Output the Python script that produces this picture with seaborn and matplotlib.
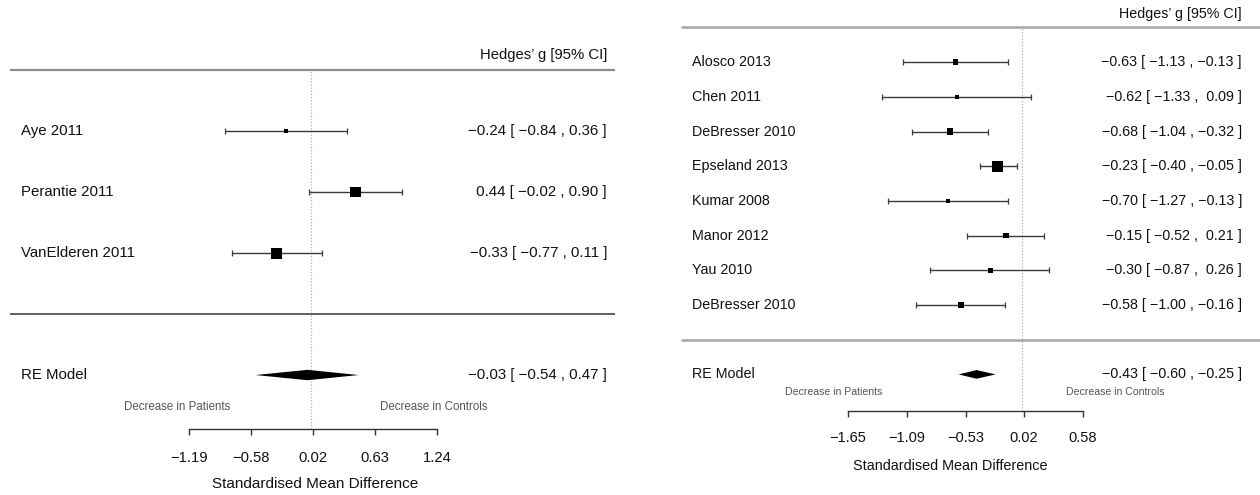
import matplotlib
matplotlib.use("Agg")

import matplotlib.pyplot as plt
import numpy as np
import seaborn as sns

# ── data ────────────────────────────────────────────────────────────────────
left_studies = ["Aye 2011", "Perantie 2011", "VanElderen 2011"]
left_est = [-0.24, 0.44, -0.33]
left_lo = [-0.84, -0.02, -0.77]
left_hi = [0.36, 0.90, 0.11]
left_weight = [25.7, 36.5, 37.8]
left_re = [-0.03, -0.54, 0.47]          # estimate, lower, upper
left_ticks = [-1.19, -0.58, 0.02, 0.63, 1.24]

right_studies = ["Alosco 2013", "Chen 2011", "DeBresser 2010", "Epseland 2013",
                 "Kumar 2008", "Manor 2012", "Yau 2010", "DeBresser 2010"]
right_est = [-0.63, -0.62, -0.68, -0.23, -0.70, -0.15, -0.30, -0.58]
right_lo = [-1.13, -1.33, -1.04, -0.40, -1.27, -0.52, -0.87, -1.00]
right_hi = [-0.13, 0.09, -0.32, -0.05, -0.13, 0.21, 0.26, -0.16]
right_weight = [11.0, 7.5, 14.0, 25.0, 9.0, 12.0, 9.0, 12.5]
right_re = [-0.43, -0.60, -0.25]
right_ticks = [-1.65, -1.09, -0.53, 0.02, 0.58]

HEADER = "Hedges\u2019 g [95% CI]"
XLABEL = "Standardised Mean Difference"
MINUS = "\u2212"


def _num(v):
    return f"{v:.2f}".replace("-", MINUS)


def _ci_strings(est, lo, hi):
    e = [_num(v) for v in est]
    l = [_num(v) for v in lo]
    h = [_num(v) for v in hi]
    we, wl, wh = (max(len(s) for s in col) for col in (e, l, h))
    return [f"{a.rjust(we)} [ {b.rjust(wl)} , {c.rjust(wh)} ]" for a, b, c in zip(e, l, h)]


def draw_forest(ax, studies, est, lo, hi, weight, re, ticks, st):
    k = len(studies)
    rows = np.arange(k, 0, -1)
    est, lo, hi, weight = map(np.asarray, (est, lo, hi, weight))

    ax.set_xlim(*st["xlim"])
    ax.set_ylim(*st["ylim"])

    # reference line at zero and horizontal separators
    ax.vlines(0, st["ylim"][0], k + 1, color="#b0b0b0", lw=0.9, ls=(0, (1, 1.5)), zorder=1)
    ax.hlines(k + 1, *st["hline_x"], color=st["top_col"], lw=st["top_lw"])
    ax.hlines(0, *st["hline_x"], color=st["bot_col"], lw=st["bot_lw"])

    # study CIs and weighted boxes
    ax.errorbar(est, rows, xerr=[est - lo, hi - est], fmt="none",
                ecolor="#3a3a3a", elinewidth=1.0, capsize=2.3, capthick=0.9, zorder=2)
    frac = (weight - weight.min()) / (weight.max() - weight.min())
    side = st["box_min"] + (st["box_max"] - st["box_min"]) * frac
    sns.scatterplot(x=est, y=rows, marker="s", s=side ** 2,
                    color="black", edgecolor="black", linewidth=0, ax=ax, zorder=3)

    # summary diamond
    m, l, u = re
    h = st["dia_h"]
    ax.fill([l, m, u, m], [-1, -1 + h, -1, -1 - h], color="black", lw=0, zorder=3)

    # texts
    fs = st["fs"]
    for r, name in zip(rows, studies):
        ax.text(st["label_x"], r, name, ha="left", va="center", fontsize=fs)
    ax.text(st["label_x"], -1, "RE Model", ha="left", va="center", fontsize=fs)
    for r, s in zip(list(rows) + [-1], _ci_strings(list(est) + [m], list(lo) + [l], list(hi) + [u])):
        ax.text(st["ci_x"], r, s, ha="right", va="center", fontsize=fs)
    ax.text(st["ci_x"], st["header_y"], HEADER, ha="right", va="center", fontsize=st["head_fs"])
    ax.text(st["pat_x"], -1.52, "Decrease in Patients", ha="right", va="center",
            fontsize=st["dec_fs"], color="#555555")
    ax.text(st["ctl_x"], -1.52, "Decrease in Controls", ha="left", va="center",
            fontsize=st["dec_fs"], color="#555555")

    # x axis
    for s_ in ("top", "right", "left"):
        ax.spines[s_].set_visible(False)
    ax.spines["bottom"].set_bounds(ticks[0], ticks[-1])
    ax.spines["bottom"].set_color("#333333")
    ax.spines["bottom"].set_linewidth(1.0)
    ax.set_xticks(ticks)
    ax.set_xticklabels([_num(t) for t in ticks])
    ax.tick_params(axis="x", bottom=True, direction="out", length=4.5, width=1.0,
                   color="#333333", labelcolor="#111111",
                   pad=st["tick_pad"], labelsize=st["tick_fs"])
    ax.set_yticks([])
    ax.set_xlabel(XLABEL, fontsize=st["xl_fs"], labelpad=st["labelpad"])


sns.set_theme(style="white")
plt.rcParams["font.family"] = ["Liberation Sans", "DejaVu Sans"]
plt.rcParams["text.color"] = "#111111"
plt.rcParams["axes.labelcolor"] = "#111111"

fig = plt.figure(figsize=(12.6, 4.95), dpi=100)

left_style = dict(
    xlim=(-3.045, 3.131), ylim=(-1.885, 5.148), hline_x=(-2.947, 2.984),
    top_col="#8c8c8c", top_lw=1.6, bot_col="#444444", bot_lw=1.2,
    box_min=2.9, box_max=7.9, dia_h=0.085, fs=10.8, head_fs=10.7, dec_fs=8.3,
    tick_fs=10.6, xl_fs=11, tick_pad=11, labelpad=9,
    label_x=-2.842, ci_x=2.906, header_y=4.25, pat_x=-0.79, ctl_x=0.68,
)
right_style = dict(
    xlim=(-3.623, 2.259), ylim=(-2.046, 9.79), hline_x=(-3.23, 2.26),
    top_col="#a6a6a6", top_lw=1.8, bot_col="#a6a6a6", bot_lw=1.8,
    box_min=2.9, box_max=7.7, dia_h=0.125, fs=10.3, head_fs=10.3, dec_fs=7.6,
    tick_fs=10.5, xl_fs=10.4, tick_pad=10, labelpad=10,
    label_x=-3.13, ci_x=2.088, header_y=9.39, pat_x=-1.327, ctl_x=0.419,
)

ax_l = fig.add_axes([0.0, 0.1333, 0.5, 0.8667])
ax_r = fig.add_axes([0.50794, 0.1703, 0.49206, 0.8297])
for ax in (ax_l, ax_r):
    ax.patch.set_alpha(0)

draw_forest(ax_l, left_studies, left_est, left_lo, left_hi, left_weight,
            left_re, left_ticks, left_style)
draw_forest(ax_r, right_studies, right_est, right_lo, right_hi, right_weight,
            right_re, right_ticks, right_style)

fig.savefig("out.png", dpi=100)
plt.close(fig)
